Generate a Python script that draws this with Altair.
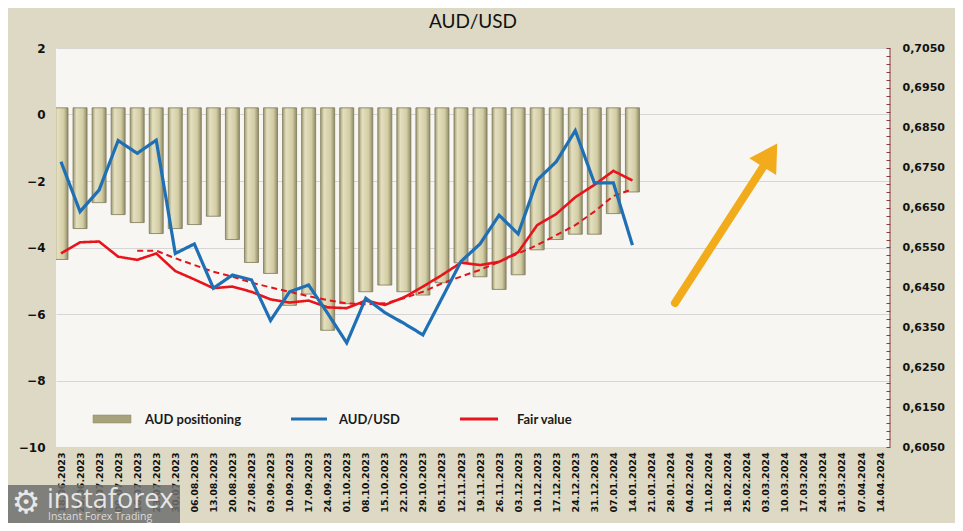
import altair as alt
import pandas as pd

# ---------------- data ----------------
dates = ["18.06.2023", "25.06.2023", "02.07.2023", "09.07.2023", "16.07.2023", "23.07.2023",
         "30.07.2023", "06.08.2023", "13.08.2023", "20.08.2023", "27.08.2023", "03.09.2023",
         "10.09.2023", "17.09.2023", "24.09.2023", "01.10.2023", "08.10.2023", "15.10.2023",
         "22.10.2023", "29.10.2023", "05.11.2023", "12.11.2023", "19.11.2023", "26.11.2023",
         "03.12.2023", "10.12.2023", "17.12.2023", "24.12.2023", "31.12.2023", "07.01.2024",
         "14.01.2024", "21.01.2024", "28.01.2024", "04.02.2024", "11.02.2024", "18.02.2024",
         "25.02.2024", "03.03.2024", "10.03.2024", "17.03.2024", "24.03.2024", "31.03.2024",
         "07.04.2024", "14.04.2024"]

aud_positioning = [-4.36, -3.43, -2.65, -3.01, -3.25, -3.58, -3.43, -3.31, -3.06, -3.76,
                   -4.45, -4.78, -5.74, -5.40, -6.49, -5.69, -5.33, -5.13, -5.33, -5.43,
                   -5.06, -4.46, -4.88, -5.26, -4.82, -4.07, -3.76, -3.60, -3.60, -2.98, -2.33]

audusd = [0.6765, 0.6640, 0.6694, 0.6818, 0.6786, 0.6819, 0.6535, 0.6559, 0.6448, 0.6481,
          0.6469, 0.6367, 0.6439, 0.6456, 0.6385, 0.6311, 0.6423, 0.6387, 0.6360, 0.6331,
          0.6423, 0.6515, 0.6559, 0.6631, 0.6584, 0.6719, 0.6765, 0.6843, 0.6712, 0.6712, 0.6556]

fair_value = [0.6535, 0.6563, 0.6565, 0.6527, 0.6519, 0.6535, 0.6491, 0.6470, 0.6448, 0.6452,
              0.6439, 0.6420, 0.6412, 0.6417, 0.6400, 0.6398, 0.6417, 0.6406, 0.6425, 0.6452,
              0.6481, 0.6512, 0.6506, 0.6514, 0.6538, 0.6606, 0.6634, 0.6676, 0.6707, 0.6742, 0.6718]

fair_trend = [None, None, None, None,
              0.6542, 0.6542, 0.6523, 0.6506, 0.6489, 0.6477, 0.6462, 0.6450, 0.6439, 0.6428,
              0.6418, 0.6410, 0.6408, 0.6410, 0.6423, 0.6439, 0.6460, 0.6477, 0.6494, 0.6514,
              0.6535, 0.6556, 0.6581, 0.6606, 0.6640, 0.6679, 0.6696]

left_ticks = [-10, -8, -6, -4, -2, 0, 2]

# ---------------- frames ----------------
bars_df = pd.DataFrame({"i": list(range(len(aud_positioning))), "pos": aud_positioning})
bars_df["top"] = 0.2

rows = []
for name, series in [("Trend", fair_trend), ("Fair value", fair_value), ("AUD/USD", audusd)]:
    for i, v in enumerate(series):
        if v is not None:
            rows.append({"i": i, "price": v, "series": name})
lines_df = pd.DataFrame(rows)

W, H = 834, 399
labels_js = "[" + ",".join("'%s'" % d for d in dates) + "]"
x_scale = alt.Scale(domain=[0, 43.26], nice=False, zero=False)
x_axis = alt.Axis(values=list(range(len(dates))), labelExpr=labels_js + "[datum.value]",
                  labelAngle=-90, labelFont="DejaVu Sans", labelFontWeight="bold",
                  labelFontSize=9.5, labelColor="#111111", labelPadding=5,
                  ticks=False, domain=False, grid=False, title=None,
                  labelOverlap=False, labelFlush=False)

bar_gradient = alt.Gradient(
    gradient="linear", x1=0, x2=1, y1=0, y2=0,
    stops=[alt.GradientStop(color="#9E9A74", offset=0),
           alt.GradientStop(color="#E4DFBF", offset=0.25),
           alt.GradientStop(color="#D3CDA5", offset=0.7),
           alt.GradientStop(color="#8F8B66", offset=1)])

bars = alt.Chart(bars_df).mark_bar(size=14, color=bar_gradient, stroke="#7E7A58",
                                   strokeWidth=0.8, clip=True).encode(
    x=alt.X("i:Q", scale=x_scale, axis=x_axis),
    y=alt.Y("pos:Q", scale=alt.Scale(domain=[-10, 2], nice=False),
            axis=alt.Axis(values=left_ticks, labelFont="DejaVu Sans", labelFontWeight="bold",
                          labelFontSize=12, labelColor="#111111", ticks=False, tickSize=0,
                          labelPadding=11, domain=False, grid=True, gridColor="#D6D6D6",
                          gridWidth=1, title=None)),
    y2="top:Q",
)

right_vals = [round(0.605 + k * 0.002, 4) for k in range(51)]
lines = alt.Chart(lines_df).mark_line(clip=True, strokeCap="butt").encode(
    x=alt.X("i:Q", scale=x_scale, axis=x_axis),
    y=alt.Y("price:Q", scale=alt.Scale(domain=[0.605, 0.705], nice=False, zero=False),
            axis=alt.Axis(orient="right", values=right_vals, offset=-4,
                          labelExpr="abs((datum.value-0.605)*100 - round((datum.value-0.605)*100)) < 0.01 ? replace(format(datum.value, '.4f'), '.', ',') : ''",
                          labelFont="DejaVu Sans", labelFontWeight="bold", labelFontSize=11,
                          labelColor="#111111", tickSize=4, tickColor="#8B3A3A",
                          domain=False, labelPadding=12, grid=False, title=None,
                          labelOverlap=False, labelFlush=False)),
    color=alt.Color("series:N", legend=None,
                    scale=alt.Scale(domain=["Trend", "Fair value", "AUD/USD"],
                                    range=["#E0141B", "#E8141B", "#1F6FB5"])),
    strokeDash=alt.StrokeDash("series:N", legend=None,
                              scale=alt.Scale(domain=["Trend", "Fair value", "AUD/USD"],
                                              range=[[6, 4], [1, 0], [1, 0]])),
    strokeWidth=alt.StrokeWidth("series:N", legend=None,
                                scale=alt.Scale(domain=["Trend", "Fair value", "AUD/USD"],
                                                range=[2, 3.2, 3.2])),
    order=alt.Order("i:Q"),
)

one = pd.DataFrame({"k": [0]})

# right axis line
right_line = alt.Chart(one).mark_rule(color="#8B3A3A", strokeWidth=1).encode(
    x=alt.value(W), y=alt.value(0), y2=alt.value(H))

# arrow annotation
arrow_shaft = alt.Chart(one).mark_rule(color="#F2AC1B", strokeWidth=8, strokeCap="round").encode(
    x=alt.value(619), y=alt.value(255), x2=alt.value(709), y2=alt.value(116))
arrow_head = alt.Chart(one).mark_point(shape="triangle-up", filled=True, size=1000,
                                       color="#F2AC1B", opacity=1, angle=32).encode(
    x=alt.value(714), y=alt.value(107))

# legend
leg_bar = alt.Chart(one).mark_rect(color="#A7A27A", stroke="#8A8660", strokeWidth=0.5).encode(
    x=alt.value(37), x2=alt.value(75), y=alt.value(367), y2=alt.value(375))
leg_blue = alt.Chart(one).mark_rule(color="#1F6FB5", strokeWidth=3).encode(
    x=alt.value(235), x2=alt.value(271), y=alt.value(371))
leg_red = alt.Chart(one).mark_rule(color="#E8141B", strokeWidth=3).encode(
    x=alt.value(404), x2=alt.value(442), y=alt.value(371))
leg_df = pd.DataFrame({"t": ["AUD positioning", "AUD/USD", "Fair value"], "px": [89, 283, 461]})
leg_text = alt.Chart(leg_df).mark_text(align="left", baseline="middle", font="Lato",
                                       fontWeight="bold", fontSize=13, color="#1A1A1A").encode(
    x=alt.X("px:Q", scale=None), y=alt.value(372), text="t:N")

# watermark
wm_box = alt.Chart(one).mark_rect(color="#6F6F6F", opacity=0.85).encode(
    x=alt.value(-56), x2=alt.value(124), y=alt.value(437), y2=alt.value(476))
wm_gear = alt.Chart(one).mark_text(text="\u2699", font="DejaVu Sans", fontSize=32,
                                   color="#E8E8E8", baseline="middle", align="center").encode(
    x=alt.value(-30), y=alt.value(455))
wm_name = alt.Chart(one).mark_text(text="instaforex", font="Open Sans", fontSize=27,
                                   color="#E6E6E6", align="left", baseline="alphabetic").encode(
    x=alt.value(-9), y=alt.value(460))
wm_sub = alt.Chart(one).mark_text(text="Instant Forex Trading", font="Open Sans", fontSize=10.5,
                                  color="#DCDCDC", align="left", baseline="alphabetic").encode(
    x=alt.value(-8), y=alt.value(472))

chart = alt.layer(
    bars, lines, right_line, arrow_shaft, arrow_head, leg_bar, leg_blue, leg_red, leg_text,
    wm_box, wm_gear, wm_name, wm_sub
).resolve_scale(y="independent", x="shared").properties(
    width=W, height=H,
    title=alt.TitleParams("AUD/USD", font="Lato", fontSize=19, fontWeight="normal",
                          color="#111111", anchor="middle", offset=10),
    autosize=alt.AutoSizeParams(type="none"),
    padding={"left": 48, "top": 40, "right": 65, "bottom": 76},
    background="#DDD9C4",
).configure_view(fill="#F7F6F2", stroke=None)

chart.save("out.html", embed_options={"renderer": "svg", "actions": False})
